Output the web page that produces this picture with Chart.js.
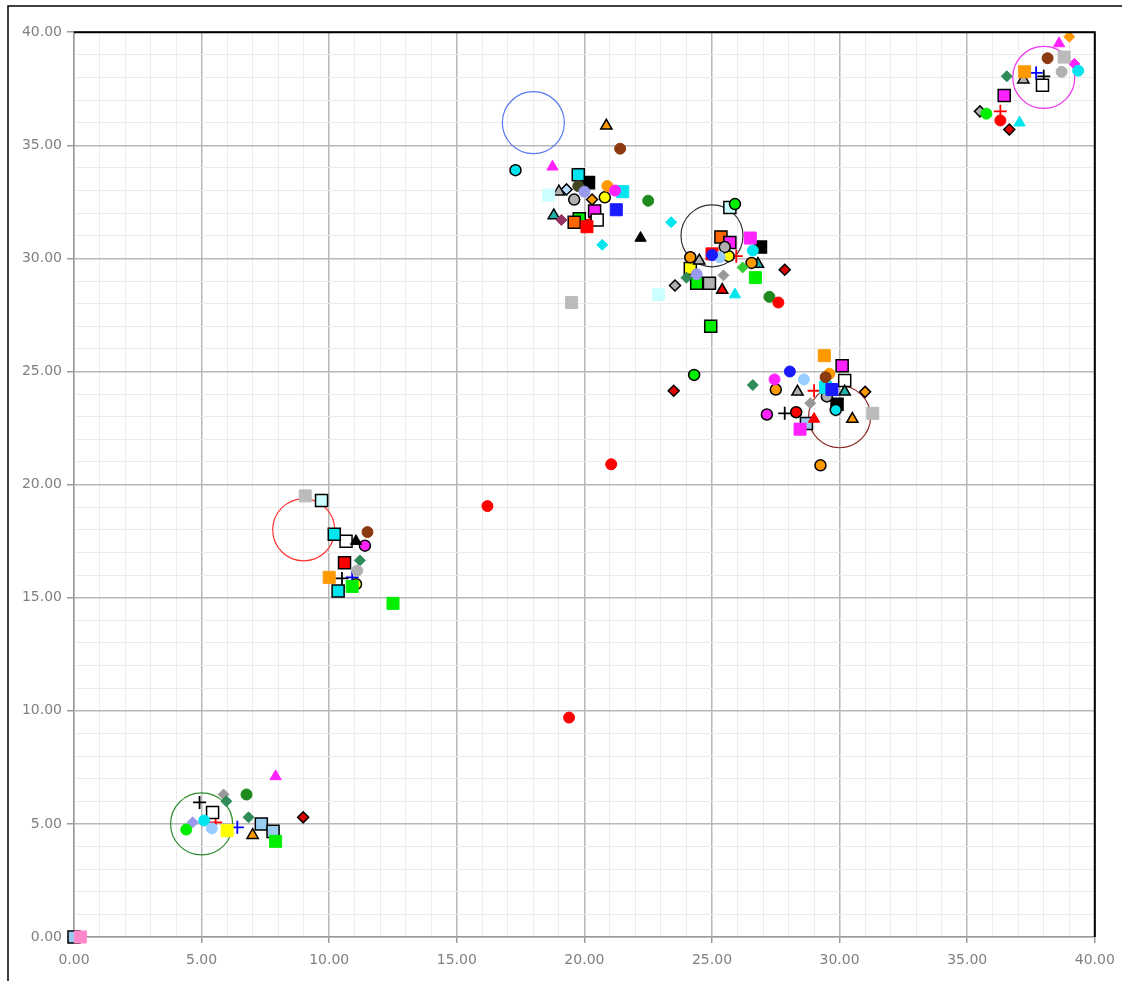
<!DOCTYPE html>
<html>
<head>
<meta charset="utf-8">
<script src="https://cdn.jsdelivr.net/npm/chart.js@4"></script>
<style>
  html, body { margin: 0; padding: 0; background: #ffffff; }
  canvas { display: block; }
</style>
</head>
<body>
<canvas id="graph" width="1127" height="981"></canvas>
<script>
// ========== DONNEES ==========

// cibles (grands cercles)
const targetX = [5, 9, 18, 25, 30, 38];
const targetY = [5, 18, 36, 31, 23, 38];

// points sans bordure
const redDots = [[16.2, 19.05], [19.4, 9.7], [21.05, 20.9], [27.6, 28.05], [36.3, 36.1]];
const darkGreenDots = [[22.5, 32.55], [27.25, 28.3], [6.76, 6.3]];
const brownDots = [[21.4, 34.85], [11.5, 17.9], [29.45, 24.75], [38.15, 38.85]];
const blueDots = [[28.05, 25.0], [25.0, 30.15]];
const magentaDots = [[27.45, 24.65], [21.2, 33.0]];
const lightBlueDots = [[28.6, 24.65], [25.3, 30.05], [5.4, 4.8]];
const grayDots = [[38.7, 38.25], [11.1, 16.2]];
const cyanDots = [[39.35, 38.3], [26.6, 30.35], [5.1, 5.15]];
const orangeDots = [[20.9, 33.2], [29.6, 24.9]];
const limeDots = [[35.75, 36.4], [4.4, 4.75]];
const lavenderDots = [[24.4, 29.3], [20.0, 32.95]];
const oliveDots = [[19.76, 33.2]];

const magentaTriangles = [[18.75, 34.05], [7.9, 7.1], [38.6, 39.5]];
const blackTriangles = [[22.2, 30.9], [11.05, 17.5]];
const cyanTriangles = [[25.9, 28.4], [37.05, 36.0]];
const redTriangles = [[29.0, 22.9]];

const orangeSquares = [[29.4, 25.7], [10.0, 15.9], [37.25, 38.25]];
const limeSquares = [[12.5, 14.75], [26.7, 29.15], [7.9, 4.23], [10.9, 15.5]];
const blueSquares = [[21.25, 32.15], [29.7, 24.2]];
const magentaSquares = [[26.5, 30.9], [28.45, 22.45]];
const redSquares = [[20.1, 31.4], [25.0, 30.2]];
const silverSquares = [[19.5, 28.05], [9.06, 19.5], [31.3, 23.15], [38.8, 38.9]];
const paleCyanSquares = [[18.6, 32.8], [22.9, 28.4]];
const cyanSquares = [[21.5, 32.95], [29.45, 24.3]];
const pinkSquares = [[0.25, 0.0]];
const yellowSquares = [[6.0, 4.7]];

const cyanDiamonds = [[23.4, 31.6], [20.7, 30.6]];
const seaGreenDiamonds = [[24.0, 29.15], [26.6, 24.4], [36.55, 38.05], [6.84, 5.29], [11.2, 16.65], [5.97, 6.0]];
const grayDiamonds = [[25.45, 29.25], [28.85, 23.6], [5.86, 6.3]];
const lavenderDiamonds = [[4.65, 5.07]];
const plumDiamonds = [[19.1, 31.7]];
const orangeDiamonds = [[39.0, 39.8]];
const magentaDiamonds = [[39.2, 38.6]];
const greenDiamonds = [[26.2, 29.6]];

// points avec bordure noire
const cyanRingDots = [[17.3, 33.9], [29.85, 23.3]];
const grayRingDots = [[19.6, 32.6], [25.5, 30.5], [29.5, 23.9]];
const yellowRingDots = [[20.8, 32.7], [11.05, 15.6], [25.65, 30.1]];
const orangeRingDots = [[24.15, 30.05], [26.55, 29.8], [27.5, 24.2], [29.25, 20.85]];
const magentaRingDots = [[27.15, 23.1], [11.4, 17.3]];
const redRingDots = [[28.3, 23.2]];
const limeRingDots = [[25.9, 32.4], [24.3, 24.85]];

const orangeRingTriangles = [[20.86, 35.86], [7.0, 4.5], [30.5, 22.9]];
const grayRingTriangles = [[19.0, 32.95], [24.5, 29.9], [28.35, 24.1], [37.2, 37.9]];
const tealRingTriangles = [[18.8, 31.9], [26.8, 29.75], [30.2, 24.1]];
const redRingTriangles = [[25.4, 28.6]];

const cyanRingSquares = [[19.76, 33.7], [10.2, 17.8], [10.35, 15.3]];
const paleRingSquares = [[9.7, 19.3], [25.7, 32.25]];
const whiteRingSquares = [[10.66, 17.5], [20.5, 31.7], [30.2, 24.6], [5.43, 5.5], [37.95, 37.65]];
const magentaRingSquares = [[20.4, 32.1], [25.7, 30.7], [30.1, 25.25], [36.45, 37.2]];
const orangeRingSquares = [[19.6, 31.6], [25.35, 30.95]];
const limeRingSquares = [[24.4, 28.9], [24.95, 27.0], [19.8, 31.75]];
const grayRingSquares = [[24.9, 28.9]];
const skyRingSquares = [[7.34, 5.0], [7.8, 4.67], [28.7, 22.7], [0.0, 0.0]];
const redRingSquares = [[10.6, 16.55]];
const blackSquares = [[20.16, 33.35], [26.9, 30.5], [29.9, 23.55]];
const yellowRingSquares = [[24.15, 29.55]];

const orangeRingDiamonds = [[20.3, 32.6], [31.0, 24.1]];
const grayRingDiamonds = [[23.55, 28.8], [35.5, 36.5]];
const skyRingDiamonds = [[19.3, 33.05]];
const redRingDiamonds = [[27.85, 29.5], [23.5, 24.15], [8.98, 5.29], [36.65, 35.7]];

// croix
const blackCrosses = [[4.92, 5.95], [10.5, 15.85], [27.85, 23.15], [38.0, 38.05], [0.1, 0.0]];
const redCrosses = [[5.55, 5.07], [20.2, 31.7], [25.95, 30.1], [29.0, 24.15], [36.3, 36.5]];
const blueCrosses = [[6.4, 4.85], [10.9, 15.9], [37.7, 38.2]];

// ========== STYLES ==========
const series = [
  { data: redDots, shape: 'circle', fill: '#ff0000' },
  { data: darkGreenDots, shape: 'circle', fill: '#1e8a1e' },
  { data: brownDots, shape: 'circle', fill: '#8b3a10' },
  { data: blueDots, shape: 'circle', fill: '#1a1aff' },
  { data: magentaDots, shape: 'circle', fill: '#ff22ff' },
  { data: lightBlueDots, shape: 'circle', fill: '#99ccff' },
  { data: grayDots, shape: 'circle', fill: '#b0b0b0' },
  { data: cyanDots, shape: 'circle', fill: '#00e5ee' },
  { data: orangeDots, shape: 'circle', fill: '#ff9900' },
  { data: limeDots, shape: 'circle', fill: '#00ee00' },
  { data: lavenderDots, shape: 'circle', fill: '#9999ee' },
  { data: oliveDots, shape: 'circle', fill: '#444422' },
  { data: magentaTriangles, shape: 'triangle', fill: '#ff22ff' },
  { data: blackTriangles, shape: 'triangle', fill: '#000000' },
  { data: cyanTriangles, shape: 'triangle', fill: '#00e5ee' },
  { data: redTriangles, shape: 'triangle', fill: '#ff0000' },
  { data: orangeSquares, shape: 'rect', fill: '#ff9900' },
  { data: limeSquares, shape: 'rect', fill: '#00ee00' },
  { data: blueSquares, shape: 'rect', fill: '#1a1aff' },
  { data: magentaSquares, shape: 'rect', fill: '#ff22ff' },
  { data: redSquares, shape: 'rect', fill: '#ff0000' },
  { data: silverSquares, shape: 'rect', fill: '#bbbbbb' },
  { data: paleCyanSquares, shape: 'rect', fill: '#ccffff' },
  { data: cyanSquares, shape: 'rect', fill: '#00e5ee' },
  { data: pinkSquares, shape: 'rect', fill: '#ff88cc' },
  { data: yellowSquares, shape: 'rect', fill: '#ffff00' },
  { data: cyanDiamonds, shape: 'rectRot', fill: '#00e5ee' },
  { data: seaGreenDiamonds, shape: 'rectRot', fill: '#2e8b57' },
  { data: grayDiamonds, shape: 'rectRot', fill: '#999999' },
  { data: lavenderDiamonds, shape: 'rectRot', fill: '#9999ee' },
  { data: plumDiamonds, shape: 'rectRot', fill: '#993366' },
  { data: orangeDiamonds, shape: 'rectRot', fill: '#ff9900' },
  { data: magentaDiamonds, shape: 'rectRot', fill: '#ff22ff' },
  { data: greenDiamonds, shape: 'rectRot', fill: '#33cc33' },
  { data: cyanRingDots, shape: 'circle', fill: '#00e5ee', edge: true },
  { data: grayRingDots, shape: 'circle', fill: '#b0b0b0', edge: true },
  { data: yellowRingDots, shape: 'circle', fill: '#ffff00', edge: true },
  { data: orangeRingDots, shape: 'circle', fill: '#ff9900', edge: true },
  { data: magentaRingDots, shape: 'circle', fill: '#ff22ff', edge: true },
  { data: redRingDots, shape: 'circle', fill: '#ff0000', edge: true },
  { data: limeRingDots, shape: 'circle', fill: '#00ee00', edge: true },
  { data: orangeRingTriangles, shape: 'triangle', fill: '#ff9900', edge: true },
  { data: grayRingTriangles, shape: 'triangle', fill: '#b0b0b0', edge: true },
  { data: tealRingTriangles, shape: 'triangle', fill: '#20b2aa', edge: true },
  { data: redRingTriangles, shape: 'triangle', fill: '#ff0000', edge: true },
  { data: cyanRingSquares, shape: 'rect', fill: '#00e5ee', edge: true },
  { data: paleRingSquares, shape: 'rect', fill: '#ccffff', edge: true },
  { data: whiteRingSquares, shape: 'rect', fill: '#ffffff', edge: true },
  { data: magentaRingSquares, shape: 'rect', fill: '#ff22ff', edge: true },
  { data: orangeRingSquares, shape: 'rect', fill: '#ff6600', edge: true },
  { data: limeRingSquares, shape: 'rect', fill: '#00ee00', edge: true },
  { data: grayRingSquares, shape: 'rect', fill: '#b0b0b0', edge: true },
  { data: skyRingSquares, shape: 'rect', fill: '#99ccee', edge: true },
  { data: redRingSquares, shape: 'rect', fill: '#ff0000', edge: true },
  { data: blackSquares, shape: 'rect', fill: '#000000', edge: true },
  { data: yellowRingSquares, shape: 'rect', fill: '#ffff00', edge: true },
  { data: orangeRingDiamonds, shape: 'rectRot', fill: '#ff9900', edge: true },
  { data: grayRingDiamonds, shape: 'rectRot', fill: '#b0b0b0', edge: true },
  { data: skyRingDiamonds, shape: 'rectRot', fill: '#bbddff', edge: true },
  { data: redRingDiamonds, shape: 'rectRot', fill: '#dd0000', edge: true },
  { data: blackCrosses, shape: 'cross', fill: '#000000' },
  { data: redCrosses, shape: 'cross', fill: '#ff0000' },
  { data: blueCrosses, shape: 'cross', fill: '#0000ff' }
];

const radiusFor = { circle: 5.5, rect: 8.5, triangle: 6.5, rectRot: 5.5, cross: 6.5 };

// Plugin pour les cadres
const framePlugin = {
  id: 'framePlugin',
  afterDraw: (chart) => {
    const ctx = chart.ctx;
    const a = chart.chartArea;
    ctx.save();
    ctx.strokeStyle = '#000000';
    ctx.lineWidth = 2;
    ctx.beginPath();
    ctx.moveTo(a.left, a.top);
    ctx.lineTo(a.right, a.top);
    ctx.lineTo(a.right, a.bottom);
    ctx.stroke();
    // cadre extérieur
    ctx.lineWidth = 1.5;
    ctx.beginPath();
    ctx.moveTo(8, 990);
    ctx.lineTo(8, 6);
    ctx.lineTo(1122, 6);
    ctx.stroke();
    ctx.restore();
  }
};

const isMajor = (c) => c.tick && Math.round(c.tick.value) % 5 === 0;

const datasets = series.map(s => ({
  data: s.data.map(p => ({ x: p[0], y: p[1] })),
  pointStyle: s.shape,
  pointRadius: radiusFor[s.shape],
  backgroundColor: s.fill,
  borderColor: s.edge ? '#000000' : s.fill,
  borderWidth: s.edge ? 1.5 : (s.shape === 'cross' ? 1.8 : 1),
  showLine: false,
  clip: false
}));

// grands cercles des cibles
datasets.push({
  data: targetX.map((x, i) => ({ x: x, y: targetY[i] })),
  pointStyle: 'circle',
  pointRadius: 31,
  backgroundColor: 'rgba(0,0,0,0)',
  borderColor: ['#2e8b2e', '#ff3333', '#5577ee', '#333333', '#8b2222', '#ee33ee'],
  borderWidth: 1.2,
  showLine: false,
  clip: false
});

const tickFont = { family: 'DejaVu Sans', size: 14 };

let graph = new Chart(document.getElementById('graph').getContext('2d'), {
  type: 'scatter',
  data: { datasets: datasets },
  options: {
    responsive: false,
    animation: false,
    layout: { padding: { top: 29, right: 29, left: 0, bottom: 0 } },
    plugins: {
      legend: { display: false },
      tooltip: { enabled: false }
    },
    scales: {
      x: {
        type: 'linear',
        min: 0,
        max: 40,
        afterFit: (scale) => {
          scale.height = 44;
          scale.paddingLeft = 0;
          scale.paddingRight = 0;
        },
        border: { color: '#999999', width: 1.5 },
        grid: {
          color: (c) => isMajor(c) ? '#b8b8b8' : '#ececec',
          lineWidth: (c) => isMajor(c) ? 1.5 : 1,
          tickColor: (c) => isMajor(c) ? '#999999' : 'rgba(0,0,0,0)',
          tickLength: 6
        },
        ticks: {
          stepSize: 1,
          autoSkip: false,
          maxRotation: 0,
          padding: 9,
          color: '#808080',
          font: tickFont,
          callback: (v) => Math.round(v) % 5 === 0 ? v.toFixed(2) : ''
        }
      },
      y: {
        type: 'linear',
        min: 0,
        max: 40,
        afterFit: (scale) => {
          scale.width = 74;
          scale.paddingTop = 0;
          scale.paddingBottom = 0;
        },
        border: { color: '#999999', width: 1.5 },
        grid: {
          color: (c) => isMajor(c) ? '#b8b8b8' : '#ececec',
          lineWidth: (c) => isMajor(c) ? 1.5 : 1,
          tickColor: (c) => isMajor(c) ? '#999999' : 'rgba(0,0,0,0)',
          tickLength: 7
        },
        ticks: {
          stepSize: 1,
          autoSkip: false,
          padding: 5,
          color: '#808080',
          font: tickFont,
          callback: (v) => Math.round(v) % 5 === 0 ? v.toFixed(2) : ''
        }
      }
    }
  },
  plugins: [framePlugin]
});
</script>
</body>
</html>
